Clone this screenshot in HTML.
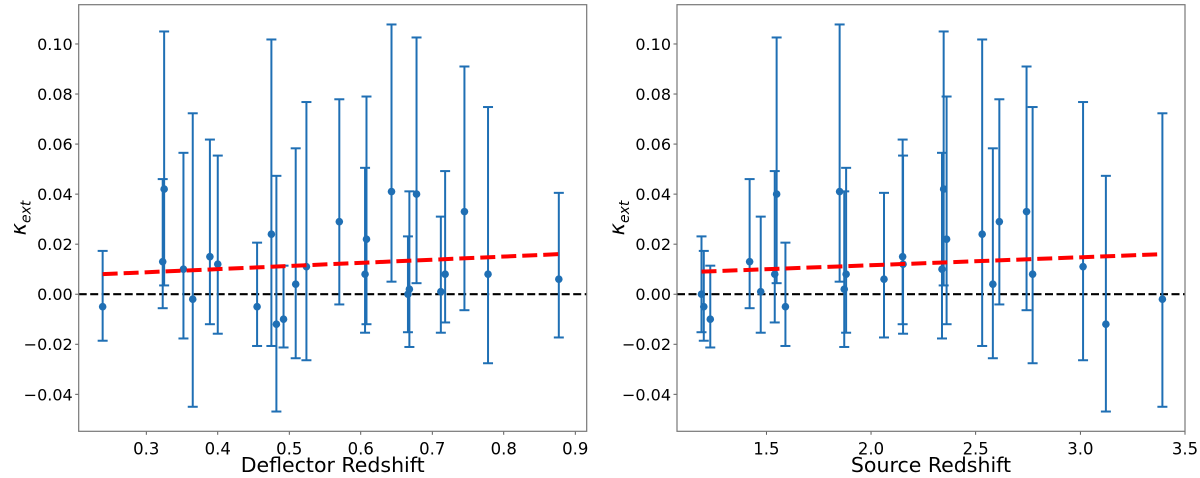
<!DOCTYPE html>
<html><head><meta charset="utf-8"><style>
html,body{margin:0;padding:0;background:#fff;}
svg{display:block;font-family:"DejaVu Sans","Liberation Sans",sans-serif;}
</style></head><body>
<svg id="chart" width="1200" height="478" viewBox="0 0 1200 478" xmlns="http://www.w3.org/2000/svg"></svg>
<script>
const kappa   = [-0.005,0.013,0.042,0.010,-0.002,0.015,0.012,-0.005,0.024,-0.012,-0.010,0.004,0.011,0.029,0.008,0.022,0.041,0.000,0.002,0.040,0.001,0.008,0.033,0.008,0.006];
const errHigh = [0.0173,0.046,0.105,0.0565,0.0723,0.0618,0.0554,0.0206,0.1018,0.0473,0.0114,0.0583,0.0768,0.0779,0.0505,0.079,0.1078,0.0231,0.0411,0.1026,0.031,0.0492,0.091,0.0748,0.0405];
const errLow  = [-0.0186,-0.0056,0.0035,-0.0177,-0.045,-0.012,-0.0158,-0.0207,-0.0207,-0.0469,-0.0213,-0.0256,-0.0264,-0.0041,-0.0154,-0.012,0.005,-0.0152,-0.0211,0.0044,-0.0154,-0.0113,-0.0064,-0.0276,-0.0173];
const zDef    = [0.239,0.323,0.325,0.352,0.365,0.389,0.400,0.455,0.475,0.482,0.492,0.509,0.524,0.570,0.606,0.608,0.643,0.666,0.668,0.678,0.712,0.718,0.745,0.778,0.877];
const zSrc    = [1.201,1.420,2.347,2.339,3.392,2.151,2.153,1.591,2.531,3.122,1.232,2.582,3.013,2.613,1.881,2.361,1.850,1.190,1.872,1.549,1.473,1.540,2.743,2.772,2.062];
const fitDef  = [[0.239,0.008],[0.877,0.016]];
const fitSrc  = [[1.19,0.009],[3.392,0.016]];
const yTicks  = [-0.04,-0.02,0.00,0.02,0.04,0.06,0.08,0.10];
const xTicksDef = [0.3,0.4,0.5,0.6,0.7,0.8,0.9];
const xTicksSrc = [1.5,2.0,2.5,3.0,3.5];

const NS="http://www.w3.org/2000/svg";
const svg=document.getElementById('chart');
function mk(tag,attrs,parent){const e=document.createElementNS(NS,tag);for(const k in attrs)e.setAttribute(k,attrs[k]);(parent||svg).appendChild(e);return e;}

function panel(name,L,R,xmin,xmax,xs,fit,xticks,xlabel,dec){
  const T=4.7,B=431.3,ymin=-0.0548,ymax=0.1157;
  const g=mk('g',{});
  
  
  const X=v=>L+(v-xmin)/(xmax-xmin)*(R-L);
  const Y=v=>B-(v-ymin)/(ymax-ymin)*(B-T);
  yTicks.forEach(t=>{
    const y=Y(t);
    const tk=mk('line',{x1:L-3.5,x2:L,y1:y,y2:y,stroke:'#333','stroke-width':0.8},g);
    
    
    const tx=mk('text',{x:L-6,y:y+6,'text-anchor':'end','font-size':16,fill:'#000'},g);
    tx.textContent=(t<0?'\u2212':'')+Math.abs(t).toFixed(2);
    
    
  });
  xticks.forEach(t=>{
    const x=X(t);
    const tk=mk('line',{x1:x,x2:x,y1:B,y2:B+3.5,stroke:'#333','stroke-width':0.8},g);
    
    
    const tx=mk('text',{x:x,y:B+23,'text-anchor':'middle','font-size':16.5,fill:'#000'},g);
    tx.textContent=t.toFixed(dec);
    
    
  });
  const xl=mk('text',{x:(L+R)/2,y:472,'text-anchor':'middle','font-size':20.5,fill:'#000'},g);
  xl.textContent=xlabel;
  
  
  const yl=mk('text',{x:0,y:0,'text-anchor':'middle','font-size':21,fill:'#000','font-style':'italic',transform:`translate(${L-53},${(T+B)/2}) rotate(-90)`},g);
  yl.innerHTML='\u03BA<tspan font-size="14" dy="5">ext</tspan>';
  
  
  const z=mk('line',{x1:L,x2:R,y1:Y(0),y2:Y(0),stroke:'#000','stroke-width':2.2,'stroke-dasharray':'8,3.5'},g);
  
  
  kappa.forEach((k,i)=>{
    const x=X(xs[i]);
    const eg=mk('g',{stroke:'#1f6fb4','stroke-width':2,fill:'#1f6fb4'},g);
    
    
    mk('line',{x1:x,x2:x,y1:Y(errHigh[i]),y2:Y(errLow[i])},eg);
    mk('line',{x1:x-5,x2:x+5,y1:Y(errHigh[i]),y2:Y(errHigh[i])},eg);
    mk('line',{x1:x-5,x2:x+5,y1:Y(errLow[i]),y2:Y(errLow[i])},eg);
    mk('circle',{cx:x,cy:Y(k),r:3.8,stroke:'none'},eg);
  });
  const f=mk('line',{x1:X(fit[0][0]),y1:Y(fit[0][1]),x2:X(fit[1][0]),y2:Y(fit[1][1]),stroke:'#ff0000','stroke-width':4,'stroke-dasharray':'15,6'},g);
  
  
  const fr=mk('rect',{x:L,y:T,width:R-L,height:B-T,fill:'none',stroke:'#777','stroke-width':1.2},g);
  
  
}
panel('deflector',78.7,586.7,0.2055,0.916,zDef,fitDef,xTicksDef,'Deflector Redshift',1);
panel('source',677,1185,1.073,3.5,zSrc,fitSrc,xTicksSrc,'Source Redshift',1);
</script>
</body></html>
